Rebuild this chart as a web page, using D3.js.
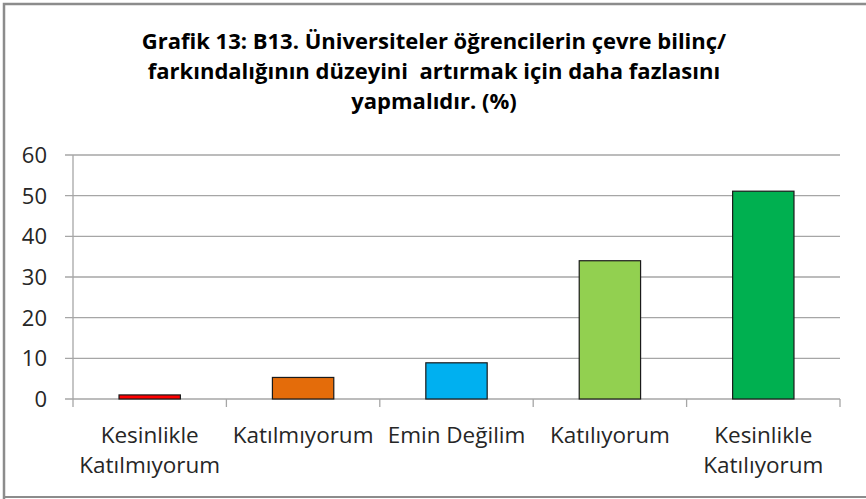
<!DOCTYPE html>
<html><head><meta charset="utf-8">
<script src="https://cdn.jsdelivr.net/npm/d3@7"></script>
<style>body{margin:0;background:#fff;} svg{display:block;}</style>
</head><body>
<svg id="c" width="866" height="499"></svg>
<script>
const categories = [["Kesinlikle","Katılmıyorum"],["Katılmıyorum"],["Emin Değilim"],["Katılıyorum"],["Kesinlikle","Katılıyorum"]];
const values = [1.0, 5.3, 8.9, 34.0, 51.1];
const colors = ["#FF0000","#E46C0A","#00B0F0","#92D050","#00B050"];
const yTicks = [0,10,20,30,40,50,60];
const titleLines = ["Grafik 13: B13. Üniversiteler öğrencilerin çevre bilinç/","farkındalığının düzeyini  artırmak için daha fazlasını","yapmalıdır. (%)"];

const svg = d3.select("#c");
const font = "'Open Sans', sans-serif";
// frame
svg.append("path").attr("d","M4,499 L4,4 L866,4").attr("fill","none").attr("stroke","#8c8c8c").attr("stroke-width",2.5);
svg.append("line").attr("x1",4).attr("x2",866).attr("y1",497).attr("y2",497).attr("stroke","#8c8c8c").attr("stroke-width",2);

const L=73,R=840,T=155,B=399;
const x = d3.scaleBand().domain(d3.range(values.length)).range([L,R]).paddingInner(0.6).paddingOuter(0.3);
const y = d3.scaleLinear().domain([0,60]).range([B,T]);

// grid
svg.append("g").selectAll("line").data(yTicks).join("line")
  .attr("x1",L-8).attr("x2",R).attr("y1",d=>y(d)).attr("y2",d=>y(d))
  .attr("stroke","#a6a6a6").attr("stroke-width",1.3);
// y axis line
svg.append("line").attr("x1",L).attr("x2",L).attr("y1",T).attr("y2",B).attr("stroke","#a6a6a6").attr("stroke-width",1.3);
// category ticks
const step = (R-L)/values.length;
svg.append("g").selectAll("line").data(d3.range(values.length+1)).join("line")
  .attr("x1",d=>L+d*step).attr("x2",d=>L+d*step).attr("y1",B).attr("y2",B+8)
  .attr("stroke","#a6a6a6").attr("stroke-width",1.3);

// y labels
svg.append("g").selectAll("text").data(yTicks).join("text")
  .attr("x",47).attr("y",d=>y(d)).attr("dy","0.36em").attr("text-anchor","end")
  .attr("font-family",font).attr("font-size",22).attr("fill","#262626").text(d=>d);

// bars
svg.append("g").selectAll("rect").data(values).join("rect")
  .attr("x",(d,i)=>x(i)).attr("width",x.bandwidth())
  .attr("y",d=>y(d)).attr("height",d=>B-y(d))
  .attr("fill",(d,i)=>colors[i]).attr("stroke","#1a1a1a").attr("stroke-width",1.2);

// category labels
const cl = svg.append("g").selectAll("text").data(categories).join("text")
  .attr("text-anchor","middle").attr("font-family",font).attr("font-size",22.5).attr("fill","#262626");
cl.each(function(d,i){
  const t=d3.select(this);
  d.forEach((s,j)=>t.append("tspan").attr("x",x(i)+x.bandwidth()/2).attr("y",443+j*30).text(s));
});

// title
svg.append("g").selectAll("text").data(titleLines).join("text")
  .attr("x",434).attr("y",(d,i)=>49+i*30).attr("text-anchor","middle")
  .attr("font-family",font).attr("font-weight","bold").attr("font-size",22).attr("fill","#000")
  .attr("xml:space","preserve").style("white-space","pre").text(d=>d);
</script>
</body></html>
